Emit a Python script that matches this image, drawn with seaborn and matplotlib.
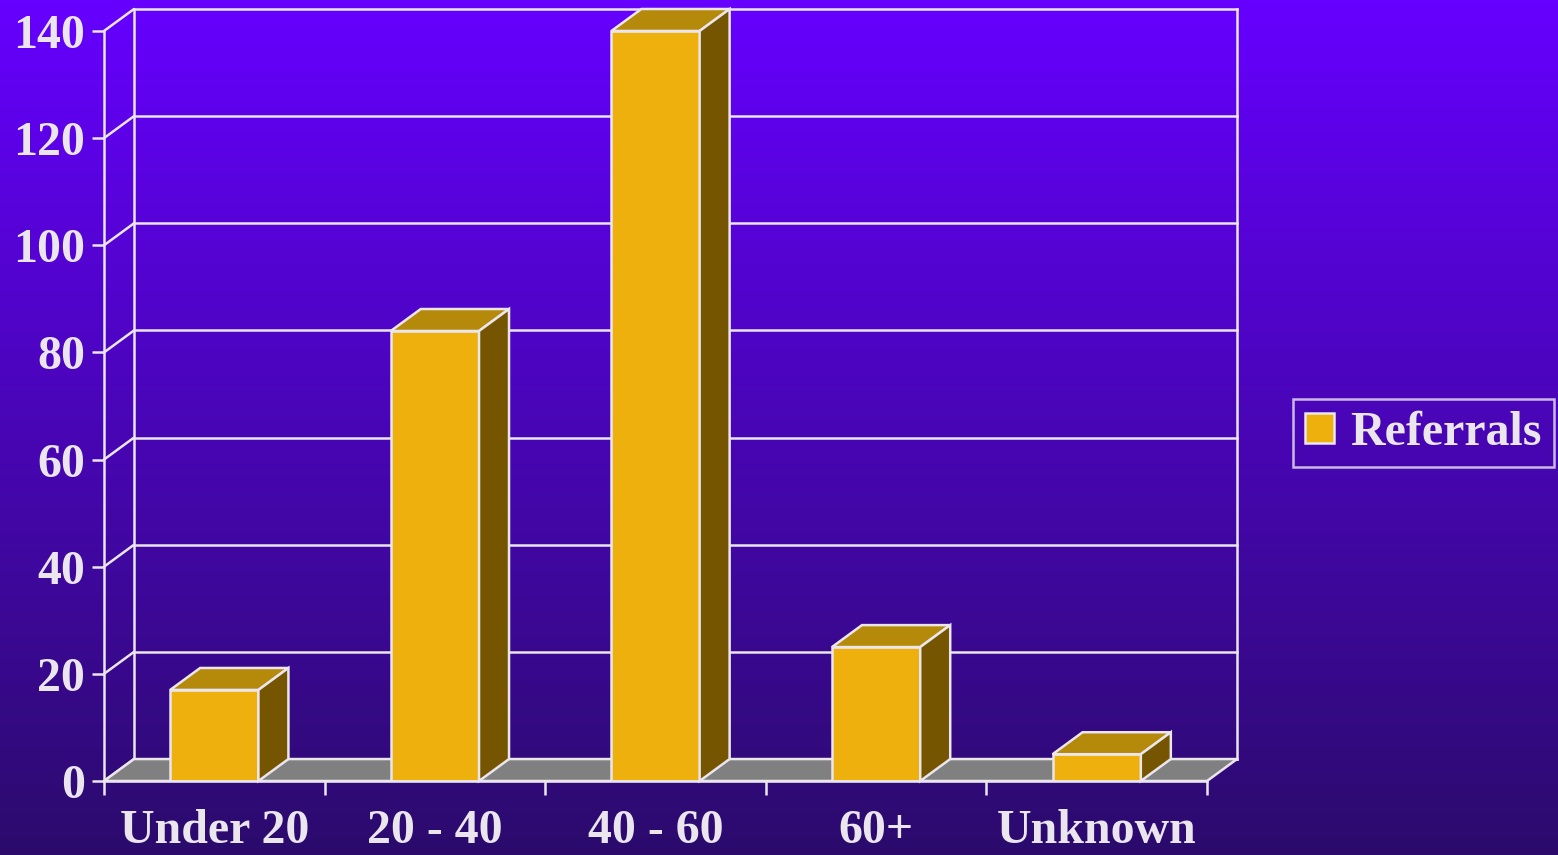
import numpy as np
import pandas as pd
import seaborn as sns
import matplotlib as mpl
import matplotlib.pyplot as plt
from matplotlib.patches import Polygon, Patch

sns.set_theme(style='white')
plt.rcParams['font.family'] = ['Liberation Serif', 'DejaVu Serif']
plt.rcParams['font.weight'] = 'bold'

categories = ['Under 20', '20 - 40', '40 - 60', '60+', 'Unknown']
referrals = [17, 84, 140, 25, 5]
yticks = [0, 20, 40, 60, 80, 100, 120, 140]

light = '#ebe6ee'
front = '#edb00d'
top_c = '#b5890a'
side_c = '#765500'
floor_c = '#808080'
lw = 1.8
fs = 34.5

# depth offset of the fake 3d box, in data units
dx = 0.136
dy = 4.1
ymax = 140

fig = plt.figure(figsize=(15.58, 8.55), dpi=100)

# vertical purple gradient behind everything
bg = fig.add_axes([0, 0, 1, 1], zorder=-10)
top_rgb = np.array([0x66, 0x00, 0xff]) / 255
bot_rgb = np.array([0x2b, 0x0b, 0x6c]) / 255
t = np.linspace(0, 1, 256)[:, None, None]
grad = top_rgb * (1 - t) + bot_rgb * t
bg.imshow(grad, aspect='auto', extent=[0, 1, 0, 1])
bg.axis('off')

W, H = 1558, 855
ax = fig.add_axes([104 / W, 1 - 781 / H, (1237 - 104) / W, (781 - 9) / H])
ax.set_facecolor('none')

df = pd.DataFrame({'group': categories, 'n': referrals})
sns.barplot(data=df, x='group', y='n', color=front, width=0.4, saturation=1,
            edgecolor=light, linewidth=lw, ax=ax, zorder=4)

# back wall, gridlines and connectors
x0, x1 = -0.5, len(categories) - 0.5
for v in yticks:
    ax.plot([x0 + dx, x1 + dx], [v + dy, v + dy], color=light, lw=lw, zorder=1,
            clip_on=False, solid_capstyle='projecting')
    ax.plot([x0, x0 + dx], [v, v + dy], color=light, lw=lw, zorder=1, clip_on=False)
ax.plot([x0 + dx, x0 + dx], [dy, ymax + dy], color=light, lw=lw, zorder=1, clip_on=False)
ax.plot([x1 + dx, x1 + dx], [dy, ymax + dy], color=light, lw=lw, zorder=1,
        clip_on=False, solid_capstyle='projecting')

floor = Polygon([[x0, 0], [x1, 0], [x1 + dx, dy], [x0 + dx, dy]],
                closed=True, facecolor=floor_c, edgecolor=light, lw=lw, zorder=2,
                clip_on=False)
ax.add_patch(floor)

# top and side faces for each bar
for p in list(ax.patches):
    if p is floor:
        continue
    bx0 = p.get_x()
    bx1 = bx0 + p.get_width()
    h = p.get_height()
    top = Polygon([[bx0, h], [bx1, h], [bx1 + dx, h + dy], [bx0 + dx, h + dy]],
                  closed=True, facecolor=top_c, edgecolor=light, lw=lw, zorder=4,
                  clip_on=False)
    side = Polygon([[bx1, 0], [bx1 + dx, dy], [bx1 + dx, h + dy], [bx1, h]],
                   closed=True, facecolor=side_c, edgecolor=light, lw=lw, zorder=4,
                   clip_on=False)
    ax.add_patch(top)
    ax.add_patch(side)

ax.set_xlim(x0, x1 + dx)
ax.set_ylim(0, ymax + dy)

for s in ['top', 'right']:
    ax.spines[s].set_visible(False)
ax.spines['left'].set_bounds(0, ymax)
ax.spines['bottom'].set_bounds(x0, x1)
for s in ['left', 'bottom']:
    ax.spines[s].set_color(light)
    ax.spines[s].set_linewidth(lw)
    ax.spines[s].set_zorder(5)

ax.set_yticks(yticks)
ax.set_yticklabels([str(v) for v in yticks])
ax.set_xticks(np.arange(len(categories) + 1) - 0.5)
ax.set_xticklabels([])
ax.set_xticks(np.arange(len(categories)), labels=categories, minor=True)
ax.tick_params(axis='y', which='major', direction='out', length=8.5, width=lw,
               color=light, labelcolor=light, labelsize=fs, pad=5, left=True)
ax.tick_params(axis='x', which='major', direction='out', length=10, width=lw,
               color=light, bottom=True)
ax.tick_params(axis='x', which='minor', length=0, labelcolor=light,
               labelsize=fs, pad=20)
ax.set_xlabel('')
ax.set_ylabel('')
ax.grid(False)

handle = Patch(facecolor=front, edgecolor=light, linewidth=lw)
leg = fig.legend([handle], ['Referrals'], loc='center left',
                 bbox_to_anchor=(1293 / W, 1 - 433 / H), frameon=True,
                 fontsize=fs, handlelength=0.6, handleheight=0.6,
                 handletextpad=0.35, borderpad=0.25, borderaxespad=0,
                 fancybox=False, labelcolor=light)
leg.get_frame().set_facecolor('none')
leg.get_frame().set_edgecolor(light)
leg.get_frame().set_linewidth(lw)

fig.savefig('out.png', dpi=100)
